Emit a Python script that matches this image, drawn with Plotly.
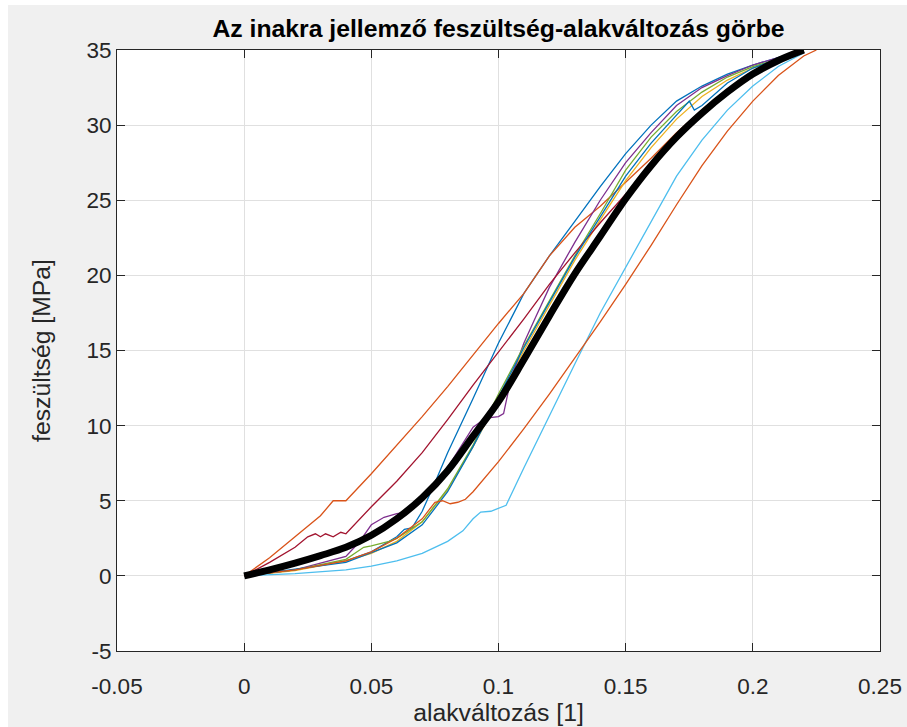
import plotly.graph_objects as go

# Strain values [1] and stress values [MPa] for each measured specimen
blue_a_x = [0, 0.02, 0.04, 0.05, 0.06, 0.063, 0.066, 0.07, 0.075, 0.08, 0.09, 0.1, 0.11, 0.12, 0.13, 0.14, 0.15, 0.16, 0.17, 0.18, 0.19, 0.2, 0.21, 0.22]
blue_a_y = [0, 0.4, 1.0, 1.6, 2.6, 3.1, 3.2, 4.3, 6.2, 8.2, 11.8, 15.5, 18.8, 21.3, 23.6, 25.9, 28.1, 30.0, 31.6, 32.6, 33.4, 34.0, 34.5, 35.0]

orange_a_x = [0, 0.01, 0.02, 0.03, 0.035, 0.04, 0.05, 0.06, 0.07, 0.08, 0.09, 0.1, 0.11, 0.12, 0.13, 0.14, 0.15, 0.16, 0.17, 0.18, 0.19, 0.2, 0.21, 0.22]
orange_a_y = [0, 1.2, 2.6, 4.0, 5.0, 5.0, 6.8, 8.7, 10.6, 12.6, 14.7, 16.8, 18.8, 21.3, 23.2, 24.6, 26.2, 27.8, 29.5, 31.0, 32.4, 33.5, 34.3, 35.0]

yellow_x = [0, 0.02, 0.04, 0.05, 0.06, 0.07, 0.08, 0.09, 0.1, 0.11, 0.12, 0.13, 0.14, 0.15, 0.16, 0.17, 0.18, 0.19, 0.2, 0.21, 0.22]
yellow_y = [0, 0.35, 1.0, 1.5, 2.3, 3.6, 5.7, 8.6, 11.8, 15.0, 18.0, 21.0, 23.7, 26.3, 28.5, 30.4, 31.9, 33.0, 33.8, 34.4, 35.0]

purple_x = [0, 0.02, 0.04, 0.045, 0.05, 0.055, 0.06, 0.063, 0.07, 0.08, 0.09, 0.095, 0.1, 0.102, 0.105, 0.11, 0.114, 0.12, 0.13, 0.14, 0.15, 0.16, 0.17, 0.18, 0.19, 0.2, 0.21, 0.22]
purple_y = [0, 0.4, 1.3, 2.2, 3.4, 3.9, 4.15, 4.2, 5.3, 7.2, 9.9, 10.5, 10.6, 10.8, 13.2, 15.5, 17.0, 19.2, 22.2, 25.0, 27.5, 29.5, 31.3, 32.5, 33.3, 34.0, 34.5, 35.0]

green_x = [0, 0.02, 0.04, 0.047, 0.05, 0.055, 0.057, 0.06, 0.07, 0.08, 0.09, 0.1, 0.11, 0.12, 0.13, 0.14, 0.15, 0.16, 0.17, 0.18, 0.19, 0.2, 0.21, 0.22]
green_y = [0, 0.4, 1.1, 1.9, 2.0, 2.2, 2.3, 2.5, 3.6, 5.8, 8.7, 12.1, 15.3, 18.3, 21.3, 24.1, 27.0, 29.2, 30.9, 32.2, 33.2, 33.9, 34.4, 35.0]

lightblue_x = [0, 0.02, 0.04, 0.05, 0.06, 0.07, 0.08, 0.086, 0.09, 0.093, 0.097, 0.1, 0.103, 0.11, 0.12, 0.13, 0.14, 0.15, 0.16, 0.17, 0.18, 0.19, 0.2, 0.21, 0.22]
lightblue_y = [0, 0.15, 0.4, 0.65, 1.0, 1.5, 2.3, 3.0, 3.8, 4.25, 4.3, 4.5, 4.7, 7.2, 10.7, 14.1, 17.5, 20.5, 23.5, 26.6, 29.0, 31.0, 32.6, 33.9, 34.8]

darkred_x = [0, 0.01, 0.02, 0.025, 0.028, 0.03, 0.032, 0.035, 0.038, 0.04, 0.05, 0.06, 0.07, 0.08, 0.09, 0.1, 0.11, 0.12, 0.13, 0.14, 0.15, 0.16, 0.17, 0.18, 0.19, 0.2, 0.21, 0.22]
darkred_y = [0, 0.9, 1.9, 2.6, 2.8, 2.6, 2.8, 2.6, 2.9, 2.8, 4.6, 6.3, 8.2, 10.4, 12.7, 14.9, 17.1, 19.4, 21.5, 23.5, 25.4, 27.3, 29.1, 30.8, 32.3, 33.5, 34.4, 35.0]

blue_b_x = [0, 0.04, 0.06, 0.07, 0.08, 0.09, 0.1, 0.11, 0.12, 0.13, 0.14, 0.15, 0.16, 0.17, 0.175, 0.177, 0.18, 0.19, 0.2, 0.21, 0.22]
blue_b_y = [0, 0.9, 2.2, 3.4, 5.6, 8.6, 11.9, 15.2, 18.2, 21.2, 23.9, 26.6, 28.8, 30.7, 31.6, 31.0, 31.3, 32.8, 33.8, 34.4, 35.0]

orange_b_x = [0, 0.02, 0.04, 0.05, 0.06, 0.07, 0.075, 0.078, 0.081, 0.084, 0.087, 0.09, 0.1, 0.11, 0.12, 0.13, 0.14, 0.15, 0.16, 0.17, 0.18, 0.19, 0.2, 0.21, 0.22, 0.225]
orange_b_y = [0, 0.4, 1.0, 1.6, 2.5, 3.8, 4.9, 5.0, 4.8, 4.9, 5.1, 5.6, 7.6, 9.8, 12.1, 14.5, 16.9, 19.4, 22.0, 24.7, 27.3, 29.6, 31.6, 33.3, 34.6, 35.0]

# Characteristic (averaged) curve
mean_x = [0, 0.01, 0.02, 0.03, 0.04, 0.05, 0.06, 0.07, 0.08, 0.09, 0.1, 0.11, 0.12, 0.13, 0.14, 0.15, 0.16, 0.17, 0.18, 0.19, 0.2, 0.21, 0.22]
mean_y = [0, 0.4, 0.85, 1.35, 1.9, 2.7, 3.8, 5.2, 7.0, 9.3, 11.6, 14.4, 17.3, 20.1, 22.6, 25.1, 27.3, 29.2, 30.8, 32.2, 33.4, 34.3, 35.0]

x_ticks = [-0.05, 0, 0.05, 0.1, 0.15, 0.2, 0.25]
x_tick_text = ["-0.05", "0", "0.05", "0.1", "0.15", "0.2", "0.25"]
y_ticks = [-5, 0, 5, 10, 15, 20, 25, 30, 35]
y_tick_text = ["-5", "0", "5", "10", "15", "20", "25", "30", "35"]

series = [
    (blue_a_x, blue_a_y, "#0072BD"),
    (orange_a_x, orange_a_y, "#D95319"),
    (yellow_x, yellow_y, "#EDB120"),
    (purple_x, purple_y, "#7E2F8E"),
    (green_x, green_y, "#77AC30"),
    (lightblue_x, lightblue_y, "#4DBEEE"),
    (darkred_x, darkred_y, "#A2142F"),
    (blue_b_x, blue_b_y, "#0072BD"),
    (orange_b_x, orange_b_y, "#D95319"),
]

fig = go.Figure()
for xs, ys, col in series:
    fig.add_trace(go.Scatter(x=xs, y=ys, mode="lines",
                             line=dict(color=col, width=1.3), hoverinfo="skip"))
fig.add_trace(go.Scatter(x=mean_x, y=mean_y, mode="lines",
                         line=dict(color="#000000", width=7, shape="spline"),
                         hoverinfo="skip"))

FONT = "Liberation Sans, Arial, sans-serif"
W, H = 907, 727
L, R, T, B = 117, 27, 50, 76
pw, ph = W - L - R, H - T - B

axis_common = dict(
    showgrid=True, gridcolor="#e0e0e0", gridwidth=1, automargin=False,
    zeroline=False, showline=True, linecolor="#262626", linewidth=1,
    mirror="ticks", ticks="inside", ticklen=8, tickcolor="#262626", tickwidth=1,
    tickfont=dict(family=FONT, size=22.5, color="#262626"),
)

fig.update_layout(
    width=W, height=H,
    margin=dict(l=L, r=R, t=T, b=B, pad=0),
    paper_bgcolor="#f0f0f0", plot_bgcolor="#ffffff",
    showlegend=False,
    title=dict(text="Az inakra jellemző feszültség-alakváltozás görbe",
               font=dict(family=FONT, size=24.75, color="#000000", weight="bold"),
               x=L / W + pw / W / 2, xanchor="center",
               y=1 - 28 / H, yanchor="middle", yref="container"),
    xaxis=dict(range=[-0.05, 0.25], tickvals=x_ticks, ticktext=x_tick_text,
               ticklabelstandoff=15,
               title=dict(text="alakváltozás [1]", standoff=0,
                          font=dict(family=FONT, size=24.75, color="#262626")),
               **axis_common),
    yaxis=dict(range=[-5, 35], tickvals=y_ticks, ticktext=y_tick_text,
               title=dict(text="feszültség [MPa]", standoff=28,
                          font=dict(family=FONT, size=24.75, color="#262626")),
               **axis_common),
    shapes=[
        # thin white strips at the top and left edges of the figure window
        dict(type="rect", xref="paper", yref="paper", layer="below",
             x0=-L / pw, x1=(8 - L) / pw, y0=-B / ph, y1=(H - B) / ph,
             fillcolor="#ffffff", line=dict(width=0)),
        dict(type="rect", xref="paper", yref="paper", layer="below",
             x0=-L / pw, x1=(W - L) / pw, y0=(H - B - 5) / ph, y1=(H - B) / ph,
             fillcolor="#ffffff", line=dict(width=0)),
    ],
)

fig.write_html("out.html")
